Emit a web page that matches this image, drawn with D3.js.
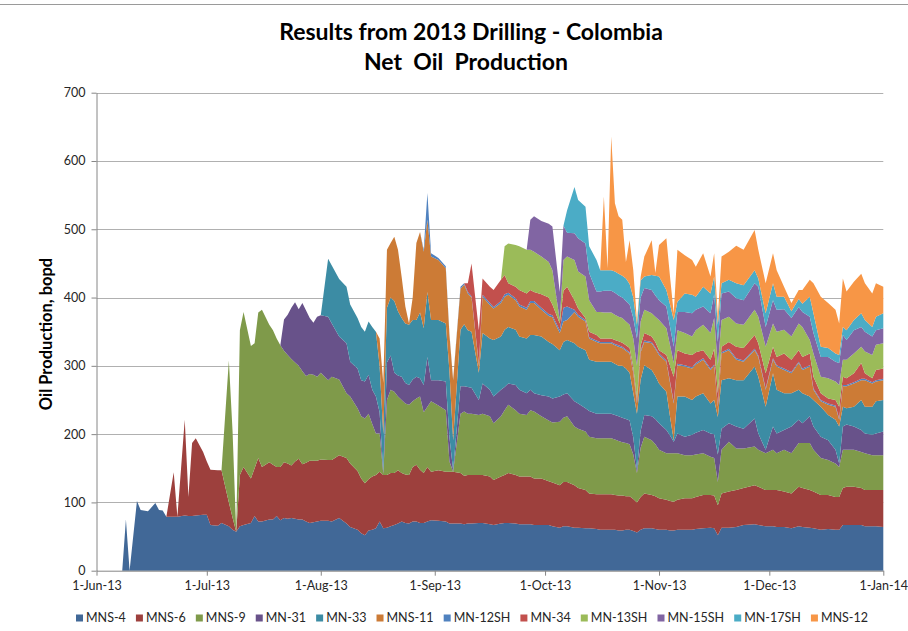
<!DOCTYPE html>
<html>
<head>
<meta charset="utf-8">
<script src="https://cdn.jsdelivr.net/npm/d3@7"></script>
<style>
  body { margin: 0; background: #fff; }
  svg { display: block; font-family: Lato, "Open Sans", "Liberation Sans", sans-serif; }
</style>
</head>
<body>
<svg id="chart" width="908" height="631"></svg>
<script>
// Daily net oil production, 2013 drilling campaign (bopd)
const startDate = new Date(2013, 5, 1);
const endDate = new Date(2014, 0, 1);

// day offsets from 1-Jun-13
const dayOffsets = [
  0,7,8,9,11,12,14,16,17,18,
  19,21,22,24,25,26,27,29,30,31,
  33,34,36,37,38,39,40,42,43,44,
  45,47,48,49,50,51,52,53,54,55,
  56,57,58,59,60,61,63,64,66,68,
  69,71,72,73,74,75,76,77,78,79,
  80,81,82,83,84,85,86,87,88,89,
  90,91,93,95,96,97,99,100,101,102,
  104,105,107,108,110,111,112,114,115,117,
  118,119,121,123,124,126,127,128,130,131,
  133,134,136,137,138,139,140,141,142,143,
  144,145,146,147,148,149,151,152,153,155,
  156,157,158,160,162,163,165,167,168,169,
  170,172,174,176,179,180,182,184,185,187,
  189,191,192,194,195,197,199,201,202,203,
  204,206,208,209,211,212,214
];

const seriesNames = ["MNS-4","MNS-6","MNS-9","MN-31","MN-33","MNS-11","MN-12SH","MN-34","MN-13SH","MN-15SH","MN-17SH","MNS-12"];

const mns4 = [
  0,0,75,0,102,89,87,99,89,88,
  79,79,79,81,80,80,81,82,82,67,
  66,70,65,60,57,65,67,70,80,72,
  72,75,75,80,74,77,76,77,76,75,
  75,72,70,71,72,73,73,72,77,69,
  64,60,55,52,59,60,62,72,62,63,
  65,67,69,72,70,69,72,72,70,70,
  72,74,73,72,69,69,69,68,69,69,
  70,70,68,67,69,70,70,69,68,68,
  68,67,67,67,65,63,65,65,63,63,
  62,62,61,60,60,60,60,60,59,59,
  60,60,58,56,60,62,62,61,60,60,
  59,59,60,60,60,61,62,63,62,52,
  63,63,64,67,68,67,65,65,64,64,
  62,65,64,63,62,60,61,60,60,67,
  67,67,67,65,65,65,64
];
const mns6 = [
  0,0,0,0,0,0,0,0,0,0,
  0,65,0,140,28,107,113,92,78,81,
  81,77,35,18,0,75,85,65,70,93,
  80,84,80,72,78,82,81,77,84,89,
  81,86,91,90,89,90,89,90,92,96,
  93,86,80,76,75,78,78,73,78,77,
  78,76,78,71,71,71,80,83,78,73,
  80,71,74,73,76,76,74,71,71,71,
  70,70,70,66,69,70,73,71,70,70,
  70,68,68,64,64,62,65,65,62,58,
  56,51,51,52,52,52,52,51,51,51,
  49,49,47,44,48,51,49,48,46,44,
  43,42,44,46,46,47,49,48,48,44,
  50,53,54,54,57,56,53,53,54,52,
  51,58,57,55,54,51,50,48,48,54,
  56,56,54,53,53,53,54
];
const mns9 = [
  0,0,0,0,0,0,0,0,0,0,
  0,0,0,0,0,0,0,0,0,0,
  0,0,208,127,0,212,227,194,183,213,
  230,201,197,188,178,163,159,156,145,136,
  136,127,127,126,123,127,117,122,111,95,
  98,92,91,95,96,77,61,56,2,110,
  122,119,108,107,104,103,96,97,107,89,
  88,103,95,90,15,0,87,94,90,90,
  88,90,88,83,88,95,100,95,92,90,
  97,98,91,89,88,93,94,96,86,87,
  86,83,82,82,82,82,82,81,80,78,
  78,76,65,43,72,83,80,76,71,68,
  70,71,68,63,63,62,61,56,55,34,
  64,73,61,58,57,54,54,59,54,61,
  59,64,66,69,61,54,51,49,44,56,
  54,54,53,54,51,51,51
];
const mn31 = [
  0,0,0,0,0,0,0,0,0,0,
  0,0,0,0,0,0,0,0,0,0,
  0,0,0,0,0,0,0,0,0,0,
  0,0,0,0,0,46,59,75,88,83,
  100,96,82,76,88,84,93,78,63,73,
  51,58,53,54,57,50,54,31,3,55,
  50,28,31,34,30,29,32,32,27,40,
  73,31,37,42,35,2,40,37,39,38,
  22,44,39,39,39,34,31,37,35,32,
  30,27,31,35,35,37,34,34,37,37,
  34,38,36,36,36,36,36,36,36,36,
  35,35,25,5,25,32,35,37,39,34,
  26,17,29,27,30,32,34,34,35,40,
  31,27,32,29,41,24,5,34,29,29,
  39,34,29,39,34,31,29,20,5,34,
  37,34,32,29,30,32,35
];
const mn33 = [
  0,0,0,0,0,0,0,0,0,0,
  0,0,0,0,0,0,0,0,0,0,
  0,0,0,0,0,0,0,0,0,0,
  0,0,0,0,0,0,0,0,0,0,
  0,0,0,0,0,0,85,85,84,83,
  84,74,78,73,78,92,95,68,55,80,
  85,105,94,86,87,88,87,83,96,83,
  95,88,88,85,97,44,83,91,83,82,
  40,74,75,83,78,84,83,81,78,80,
  80,85,86,80,80,68,77,78,85,83,
  85,75,76,76,76,76,76,75,74,76,
  74,70,65,82,75,73,68,63,58,56,
  27,2,54,59,51,53,54,44,50,55,
  71,66,68,71,76,83,63,78,64,54,
  49,44,44,29,39,44,37,44,54,29,
  24,29,44,39,41,47,46
];
const mns11 = [
  0,0,0,0,0,0,0,0,0,0,
  0,0,0,0,0,0,0,0,0,0,
  0,0,0,0,0,0,0,0,0,0,
  0,0,0,0,0,0,0,0,0,0,
  0,0,0,0,0,0,0,0,0,0,
  0,0,0,0,0,0,0,40,75,85,
  80,94,90,60,25,2,33,113,118,112,
  106,93,88,81,53,88,60,58,54,50,
  11,53,49,46,49,48,47,43,44,42,
  47,47,39,38,39,25,30,29,46,44,
  42,31,29,27,27,27,27,27,28,26,
  26,28,30,15,40,34,39,40,42,44,
  50,54,46,44,46,47,49,49,50,15,
  39,41,30,27,24,29,25,20,34,34,
  29,39,34,44,15,8,15,19,10,30,
  32,34,29,39,34,29,29
];
const mn12sh = [
  0,0,0,0,0,0,0,0,0,0,
  0,0,0,0,0,0,0,0,0,0,
  0,0,0,0,0,0,0,0,0,0,
  0,0,0,0,0,0,0,0,0,0,
  0,0,0,0,0,0,0,0,0,0,
  0,0,0,0,0,0,0,0,0,0,
  0,0,0,0,0,0,0,0,0,3,
  39,5,3,3,2,1,3,2,2,2,
  2,3,3,2,3,4,3,3,3,3,
  3,3,3,3,3,4,20,20,3,3,
  2,2,2,2,2,2,2,2,2,2,
  2,2,2,2,2,2,2,2,2,2,
  2,2,2,2,2,2,2,2,2,2,
  2,2,2,2,2,2,2,2,2,2,
  2,2,2,2,2,2,2,2,2,2,
  2,2,2,2,2,2,2
];
const mn34 = [
  0,0,0,0,0,0,0,0,0,0,
  0,0,0,0,0,0,0,0,0,0,
  0,0,0,0,0,0,0,0,0,0,
  0,0,0,0,0,0,0,0,0,0,
  0,0,0,0,0,0,0,0,0,0,
  0,0,0,0,0,0,0,0,0,0,
  0,0,0,0,0,0,0,0,0,0,
  0,0,0,0,0,0,0,0,13,48,
  49,24,24,25,31,28,14,17,21,21,
  16,13,20,24,16,10,25,29,14,9,
  3,8,8,5,5,5,5,6,6,6,
  6,6,6,5,8,11,8,8,5,8,
  23,37,20,17,18,16,12,13,23,18,
  8,10,17,18,20,18,22,17,12,22,
  18,17,17,17,17,10,7,8,17,12,
  10,13,23,8,6,15,15
];
const mn13sh = [
  0,0,0,0,0,0,0,0,0,0,
  0,0,0,0,0,0,0,0,0,0,
  0,0,0,0,0,0,0,0,0,0,
  0,0,0,0,0,0,0,0,0,0,
  0,0,0,0,0,0,0,0,0,0,
  0,0,0,0,0,0,0,0,0,0,
  0,0,0,0,0,0,0,0,0,0,
  0,0,0,0,0,0,0,0,0,0,
  0,0,0,0,0,42,58,61,64,64,
  59,59,55,52,50,5,45,44,59,54,
  61,46,34,39,38,38,38,37,36,36,
  35,34,42,48,35,34,34,37,44,39,
  30,20,29,30,27,32,37,39,45,40,
  39,37,34,34,37,39,39,34,37,35,
  34,39,44,20,34,24,30,27,32,25,
  27,29,24,32,34,37,37
];
const mn15sh = [
  0,0,0,0,0,0,0,0,0,0,
  0,0,0,0,0,0,0,0,0,0,
  0,0,0,0,0,0,0,0,0,0,
  0,0,0,0,0,0,0,0,0,0,
  0,0,0,0,0,0,0,0,0,0,
  0,0,0,0,0,0,0,0,0,0,
  0,0,0,0,0,0,0,0,0,0,
  0,0,0,0,0,0,0,0,0,0,
  0,0,0,0,0,0,0,0,0,0,
  44,52,52,56,64,41,50,35,39,49,
  48,40,30,30,32,32,32,32,31,30,
  30,30,30,40,35,32,34,31,29,32,
  27,24,27,31,34,30,27,29,35,35,
  39,37,37,36,39,44,29,34,32,30,
  27,24,22,34,30,29,31,29,32,36,
  29,34,29,29,27,21,22
];
const mn17sh = [
  0,0,0,0,0,0,0,0,0,0,
  0,0,0,0,0,0,0,0,0,0,
  0,0,0,0,0,0,0,0,0,0,
  0,0,0,0,0,0,0,0,0,0,
  0,0,0,0,0,0,0,0,0,0,
  0,0,0,0,0,0,0,0,0,0,
  0,0,0,0,0,0,0,0,0,0,
  0,0,0,0,0,0,0,0,0,0,
  0,0,0,0,0,0,0,0,0,0,
  0,0,0,0,0,0,0,33,68,56,
  54,39,46,31,30,30,30,31,32,32,
  33,30,30,20,25,17,22,29,35,24,
  33,39,15,27,27,19,29,29,26,25,
  15,17,22,22,19,12,20,25,19,18,
  10,12,12,29,29,15,13,12,12,12,
  14,15,20,17,14,20,22
];
const mns12 = [
  0,0,0,0,0,0,0,0,0,0,
  0,0,0,0,0,0,0,0,0,0,
  0,0,0,0,0,0,0,0,0,0,
  0,0,0,0,0,0,0,0,0,0,
  0,0,0,0,0,0,0,0,0,0,
  0,0,0,0,0,0,0,0,0,0,
  0,0,0,0,0,0,0,0,0,0,
  0,0,0,0,0,0,0,0,0,0,
  0,0,0,0,0,0,0,0,0,0,
  0,0,0,0,0,0,0,0,0,0,
  0,0,0,0,108,3,196,100,84,82,
  24,64,40,5,5,29,51,4,46,76,
  40,10,76,56,51,44,49,25,34,12,
  39,41,55,52,59,42,44,44,39,15,
  12,13,20,25,44,73,66,64,46,71,
  57,56,58,54,49,49,39
];

const yTickValues = [0, 100, 200, 300, 400, 500, 600, 700];

const seriesColors = ["#416897","#9d403d","#7f9a4a","#68528a","#3c8ca4","#cc7b36",
                      "#5082bf","#c2504d","#9bbb59","#8165a3","#4bacc6","#f79646"];

// assemble per-day records for the stack
const seriesValues = [mns4, mns6, mns9, mn31, mn33, mns11, mn12sh, mn34, mn13sh, mn15sh, mn17sh, mns12];
const records = dayOffsets.map((d, i) => {
  const r = { date: d3.timeDay.offset(startDate, d) };
  seriesNames.forEach((name, k) => { r[name] = seriesValues[k][i]; });
  return r;
});

const svg = d3.select("#chart");
const plotLeft = 96.5, plotRight = 883.3, plotTop = 92.7, plotBottom = 570.7;

const x = d3.scaleTime().domain([startDate, endDate]).range([plotLeft, plotRight]);
const y = d3.scaleLinear().domain([0, 700]).range([plotBottom, plotTop]);

// outer frame line
svg.append("line").attr("x1", 0).attr("x2", 908).attr("y1", 4.5).attr("y2", 4.5)
  .attr("stroke", "#9a9a9a").attr("stroke-width", 1);

// horizontal gridlines
svg.append("g").selectAll("line")
  .data(yTickValues.filter(v => v > 0))
  .join("line")
  .attr("x1", plotLeft).attr("x2", plotRight)
  .attr("y1", d => Math.round(y(d)) + 0.5).attr("y2", d => Math.round(y(d)) + 0.5)
  .attr("stroke", "#b0b0b0").attr("stroke-width", 1);

// stacked areas
const stack = d3.stack().keys(seriesNames);
const layers = stack(records);
const area = d3.area()
  .x(d => x(d.data.date))
  .y0(d => y(d[0]))
  .y1(d => y(d[1]));

svg.append("g").selectAll("path")
  .data(layers)
  .join("path")
  .attr("d", area)
  .attr("fill", (d, i) => seriesColors[i]);

// axes
const xAxis = d3.axisBottom(x)
  .tickValues(d3.timeMonth.range(startDate, d3.timeDay.offset(endDate, 1)))
  .tickFormat(d3.timeFormat("%-d-%b-%y"))
  .tickSize(5).tickSizeOuter(0).tickPadding(5);
const gx = svg.append("g").attr("transform", `translate(0,${plotBottom})`).call(xAxis);

const yAxis = d3.axisLeft(y).tickValues(yTickValues).tickSize(5).tickSizeOuter(0).tickPadding(6);
const gy = svg.append("g").attr("transform", `translate(${plotLeft},0)`).call(yAxis);

[gx, gy].forEach(g => {
  g.selectAll(".domain").attr("stroke", "#868686");
  g.selectAll(".tick line").attr("stroke", "#868686");
  g.selectAll(".tick text").attr("fill", "#262626").style("font-size", "12.5px")
    .style("font-family", "Lato, 'Open Sans', sans-serif");
});

// titles
const title = svg.append("g").attr("font-weight", "bold").attr("fill", "#000")
  .attr("text-anchor", "middle").style("font-size", "23px");
title.append("text").attr("x", 471).attr("y", 40).text("Results from 2013 Drilling - Colombia");
title.append("text").attr("x", 466).attr("y", 70).attr("xml:space", "preserve")
  .style("white-space", "pre").text("Net  Oil  Production");

svg.append("text")
  .attr("transform", "translate(52,334) rotate(-90)")
  .attr("text-anchor", "middle").attr("font-weight", "bold")
  .style("font-size", "16.5px").text("Oil Production, bopd");

// legend
const legend = svg.append("g").style("font-size", "12.5px");
const items = legend.selectAll("g").data(seriesNames).join("g");
items.append("rect").attr("width", 7).attr("height", 7).attr("y", 614.5)
  .attr("fill", (d, i) => seriesColors[i]);
items.append("text").attr("x", 10).attr("y", 622).attr("fill", "#262626").text(d => d);
const widths = [];
items.each(function () { widths.push(10 + this.querySelector("text").getComputedTextLength()); });
const legendStart = 76, legendEnd = 868;
const gap = (legendEnd - legendStart - d3.sum(widths)) / (widths.length - 1);
let cursor = legendStart;
items.attr("transform", (d, i) => {
  const t = `translate(${cursor},0)`;
  cursor += widths[i] + gap;
  return t;
});
</script>
</body>
</html>
